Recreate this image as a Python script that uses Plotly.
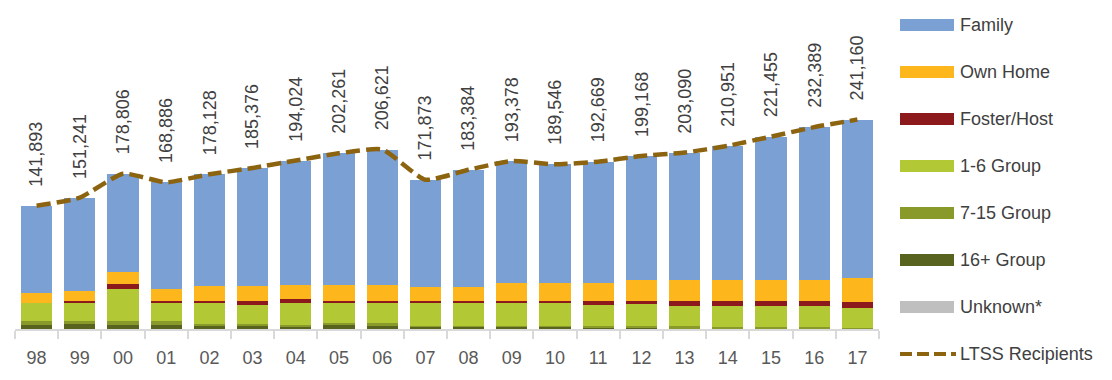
import plotly.graph_objects as go

years = ["98", "99", "00", "01", "02", "03", "04", "05", "06", "07",
         "08", "09", "10", "11", "12", "13", "14", "15", "16", "17"]

ltss_recipients = [141893, 151241, 178806, 168886, 178128, 185376, 194024, 202261, 206621, 171873,
                   183384, 193378, 189546, 192669, 199168, 203090, 210951, 221455, 232389, 241160]

family = [99900, 107000, 113000, 122700, 129000, 136200, 142900, 151200, 155500, 123300,
          134800, 140200, 136300, 139400, 143200, 147100, 155000, 165500, 176400, 182400]
own_home = [11500, 11500, 13800, 13500, 16500, 16500, 16100, 18400, 18400, 16100,
            16100, 20700, 20700, 21100, 23700, 23700, 23800, 23800, 23800, 27200]
foster_host = [400, 3100, 5400, 2600, 2600, 5400, 5000, 3100, 3100, 3100,
               3100, 3100, 3100, 5100, 3100, 5400, 5400, 5400, 5400, 6900]
group_1_6 = [21200, 20700, 37700, 21200, 23800, 21100, 25000, 22700, 22900, 25700,
             25700, 25700, 25700, 24200, 25700, 23400, 24500, 24500, 24500, 23400]
group_7_15 = [3800, 3000, 3800, 3800, 2300, 2300, 1700, 2800, 2800, 1200,
              1200, 1200, 1200, 2300, 2000, 3000, 2100, 2100, 2100, 1200]
group_16 = [4600, 5400, 4600, 4600, 3500, 3500, 2900, 3800, 3600, 2300,
            2300, 2300, 2300, 600, 1500, 500, 200, 200, 200, 100]
unknown = [500, 500, 500, 500, 400, 400, 400, 300, 300, 200,
           200, 200, 200, 0, 0, 0, 0, 0, 0, 0]

series_names = ["Unknown*", "16+ Group", "7-15 Group", "1-6 Group", "Foster/Host", "Own Home", "Family"]
series_values = [unknown, group_16, group_7_15, group_1_6, foster_host, own_home, family]
series_colors = ["#BFBFBF", "#58641E", "#8A9A2A", "#B2C935", "#8C1A1C", "#FDB71C", "#7BA0D4"]
line_color = "#8C6410"

W, H = 1112, 380
OFF = 8  # page body margin
# desired plot area in page pixels: x 14.7..878.6, y 25..329.3
ML = 15 - OFF
MT = 25 - OFF
MB = H - (329 - OFF)
MR = W - (879 - OFF)

fig = go.Figure()
for name, vals, col in zip(series_names, series_values, series_colors):
    fig.add_trace(go.Bar(x=years, y=vals, name=name, marker=dict(color=col, line=dict(width=0)),
                         showlegend=False))

fig.add_trace(go.Scatter(x=years, y=ltss_recipients, name="LTSS Recipients", mode="lines",
                         line=dict(color=line_color, width=4.5, dash="14px,6px", shape="spline", smoothing=0.5),
                         showlegend=False))

annotations = []
for i, tot in enumerate(ltss_recipients):
    annotations.append(dict(x=i, y=tot, xref="x", yref="y", text=f"{tot:,}", textangle=-90,
                            showarrow=False, xanchor="center", yanchor="bottom", yshift=17,
                            font=dict(family="Liberation Sans", size=18, color="#404040")))

# manual legend (page pixel -> paper helpers)
pw = W - ML - MR
ph = H - MT - MB
def px_x(p):
    return (p - OFF - ML) / pw
def px_y(p):
    return (H - MB - (p - OFF)) / ph

legend_names = ["Family", "Own Home", "Foster/Host", "1-6 Group", "7-15 Group", "16+ Group", "Unknown*"]
legend_colors = ["#7BA0D4", "#FDB71C", "#8C1A1C", "#B2C935", "#8A9A2A", "#58641E", "#BFBFBF"]
shapes = []
y0 = 25.0
step = 47.0
for i, (nm, col) in enumerate(zip(legend_names, legend_colors)):
    yc = y0 + i * step
    shapes.append(dict(type="rect", xref="paper", yref="paper",
                       x0=px_x(900), x1=px_x(954), y0=px_y(yc + 6), y1=px_y(yc - 6),
                       fillcolor=col, line=dict(width=0)))
    annotations.append(dict(x=px_x(958), y=px_y(yc), xref="paper", yref="paper", text=nm,
                            showarrow=False, xanchor="left", yanchor="middle",
                            font=dict(family="Liberation Sans", size=18, color="#404040")))
yc = y0 + 7 * step
shapes.append(dict(type="line", xref="paper", yref="paper",
                   x0=px_x(900), x1=px_x(956), y0=px_y(yc), y1=px_y(yc),
                   line=dict(color=line_color, width=4, dash="12px,5px")))
annotations.append(dict(x=px_x(958), y=px_y(yc), xref="paper", yref="paper", text="LTSS Recipients",
                        showarrow=False, xanchor="left", yanchor="middle",
                        font=dict(family="Liberation Sans", size=18, color="#404040")))

fig.update_layout(
    width=W, height=H, autosize=False,
    margin=dict(l=ML, r=MR, t=MT, b=MB, pad=0),
    barmode="stack", bargap=0.28,
    plot_bgcolor="white", paper_bgcolor="white",
    showlegend=False,
    annotations=annotations, shapes=shapes,
    font=dict(family="Liberation Sans", color="#595959"),
)
fig.update_xaxes(type="category", range=[-0.5, len(years) - 0.5], autorange=False,
                 showline=True, linecolor="#D9D9D9", linewidth=2,
                 ticks="outside", tickson="boundaries", ticklen=8, tickcolor="#D9D9D9", tickwidth=2,
                 tickangle=0,
                 tickfont=dict(family="Liberation Sans", size=18, color="#595959"),
                 ticklabelstandoff=11, showgrid=False, zeroline=False)
fig.update_yaxes(range=[0, 350000], autorange=False, visible=False, showgrid=False, zeroline=False)

fig.write_html("out.html")
